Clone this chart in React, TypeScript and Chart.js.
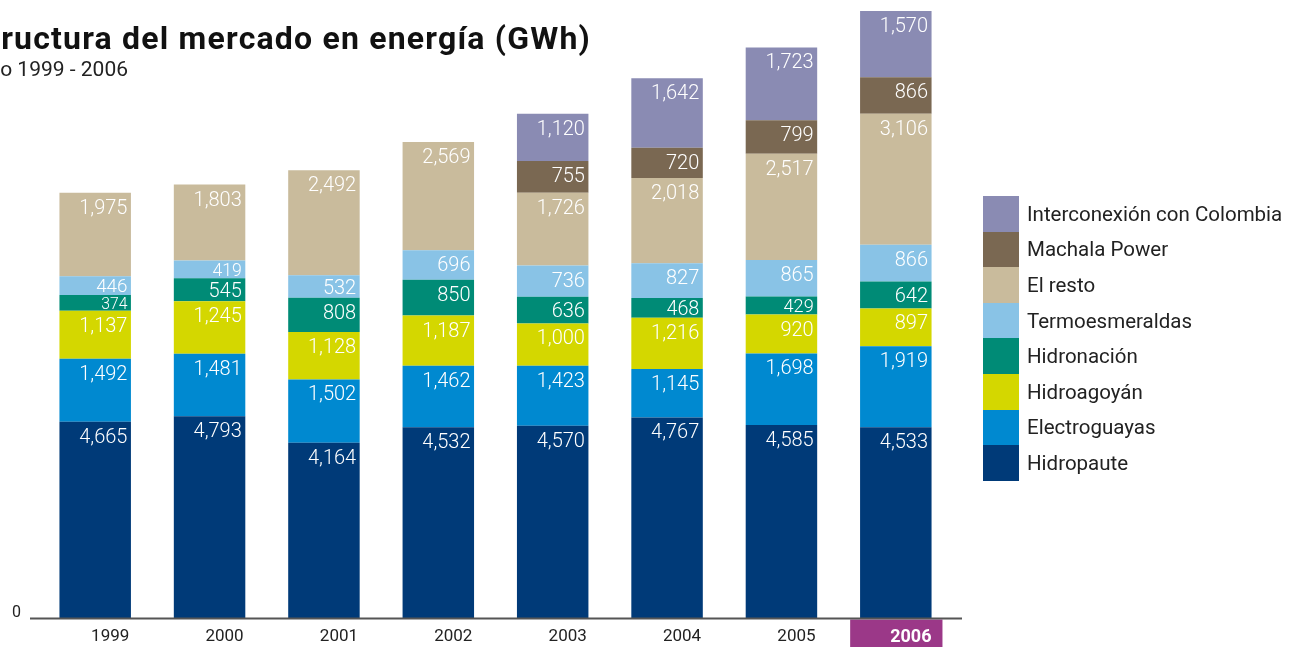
import React, { useEffect, useRef } from "react";
import { Chart, registerables } from "chart.js";
Chart.register(...registerables);

const years = ["1999", "2000", "2001", "2002", "2003", "2004", "2005", "2006"];
const hidropaute = [4665, 4793, 4164, 4532, 4570, 4767, 4585, 4533];
const electroguayas = [1492, 1481, 1502, 1462, 1423, 1145, 1698, 1919];
const hidroagoyan = [1137, 1245, 1128, 1187, 1000, 1216, 920, 897];
const hidronacion = [374, 545, 808, 850, 636, 468, 429, 642];
const termoesmeraldas = [446, 419, 532, 696, 736, 827, 865, 866];
const elResto = [1975, 1803, 2492, 2569, 1726, 2018, 2517, 3106];
const machalaPower = [0, 0, 0, 0, 755, 720, 799, 866];
const colombia = [0, 0, 0, 0, 1120, 1642, 1723, 1570];

const seriesNames = [
  "Hidropaute",
  "Electroguayas",
  "Hidroagoyán",
  "Hidronación",
  "Termoesmeraldas",
  "El resto",
  "Machala Power",
  "Interconexión con Colombia",
];
const seriesValues = [hidropaute, electroguayas, hidroagoyan, hidronacion, termoesmeraldas, elResto, machalaPower, colombia];
const seriesColors = ["#003a78", "#0089d0", "#d4d700", "#008b76", "#89c3e6", "#c9bb9c", "#7a6852", "#8a8bb3"];

const title = "Estructura del mercado en energía (GWh)";
const subtitle = "Período 1999 - 2006";
const FONT = "Roboto, 'Noto Sans', sans-serif";

const segLabels = {
  id: "segLabels",
  afterDatasetsDraw(chart: any) {
    const ctx = chart.ctx;
    ctx.save();
    chart.data.datasets.forEach((ds: any, di: number) => {
      const meta = chart.getDatasetMeta(di);
      meta.data.forEach((bar: any, i: number) => {
        const v = ds.data[i];
        if (!v) return;
        const p = bar.getProps(["x", "y", "base", "width"], true);
        const top = Math.min(p.y, p.base);
        const h = Math.abs(p.base - p.y);
        let f = 20;
        let baseline: number;
        if (h >= 27) baseline = top + 21;
        else {
          f = Math.min(20, h);
          baseline = top + h / 2 + (0.711 * f) / 2;
        }
        ctx.font = `300 ${f}px ${FONT}`;
        ctx.fillStyle = "#ffffff";
        ctx.textAlign = "right";
        ctx.textBaseline = "alphabetic";
        ctx.fillText(v.toLocaleString("en-US"), p.x + p.width / 2 - 3.5, baseline);
      });
    });
    ctx.restore();
  },
};

const axisLine = {
  id: "axisLine",
  afterDatasetsDraw(chart: any) {
    const ctx = chart.ctx;
    const y0 = chart.scales.y.getPixelForValue(0);
    const a = chart.chartArea;
    ctx.save();
    ctx.strokeStyle = "#555555";
    ctx.lineWidth = 2;
    ctx.beginPath();
    ctx.moveTo(a.left - 8, y0);
    ctx.lineTo(a.right + 9, y0);
    ctx.stroke();
    ctx.restore();
  },
};

export default function App() {
  const ref = useRef<HTMLCanvasElement>(null);
  useEffect(() => {
    if (!ref.current) return;
    const chart = new Chart(ref.current, {
      type: "bar",
      data: {
        labels: years,
        datasets: seriesNames.map((n, k) => ({
          label: n,
          data: seriesValues[k],
          backgroundColor: seriesColors[k],
          borderWidth: 0,
          barPercentage: 0.625,
          categoryPercentage: 1,
        })),
      },
      options: {
        animation: false,
        responsive: false,
        layout: { padding: { left: 12, right: 336, top: 11, bottom: 5 } },
        plugins: { legend: { display: false }, tooltip: { enabled: false } },
        scales: {
          x: {
            stacked: true,
            grid: { display: false, drawTicks: false },
            border: { display: false },
            afterFit: (s: any) => {
              s.height = 28.5;
            },
            ticks: {
              autoSkip: false,
              maxRotation: 0,
              padding: 8,
              labelOffset: 15,
              font: (c: any) => ({ size: c.index === 7 ? 18 : 17, family: FONT, weight: c.index === 7 ? "bold" : "normal" }),
              color: (c: any) => (c.index === 7 ? "#ffffff" : "#222222"),
              showLabelBackdrop: (c: any) => c.index === 7,
              backdropColor: "#9b3888",
              backdropPadding: { left: 40, right: 11, top: 7, bottom: 22 },
            },
          },
          y: {
            stacked: true,
            min: 0,
            max: 14400,
            grid: { display: false, drawTicks: false },
            border: { display: false },
            afterBuildTicks: (s: any) => {
              s.ticks = [{ value: 0 }];
            },
            afterFit: (s: any) => {
              s.width = 26;
            },
            ticks: {
              callback: () => "0",
              font: { size: 16, family: FONT },
              color: "#222222",
              padding: 0,
              crossAlign: "far",
              labelOffset: -6,
            },
          },
        },
      },
      plugins: [segLabels, axisLine],
    });
    return () => chart.destroy();
  }, []);

  const legendItems = seriesNames.map((n, k) => ({ n, c: seriesColors[k] })).reverse();

  return (
    <div style={{ position: "fixed", left: 0, top: 0, width: 1289, height: 652, overflow: "hidden", background: "#fff", fontFamily: FONT }}>
      <canvas ref={ref} width={1289} height={652} style={{ position: "absolute", left: 0, top: 0 }} />
      <div style={{ position: "absolute", right: 1289 - 591, top: 22, fontSize: 32, fontWeight: 700, lineHeight: "32px", letterSpacing: 1.2, whiteSpace: "nowrap", color: "#111" }}>
        {title}
      </div>
      <div style={{ position: "absolute", right: 1289 - 128, top: 59, fontSize: 21, lineHeight: "21px", whiteSpace: "nowrap", color: "#222" }}>
        {subtitle}
      </div>
      <div style={{ position: "absolute", left: 983, top: 196 }}>
        {legendItems.map((it) => (
          <div key={it.n} style={{ display: "flex", alignItems: "center", height: 35.6 }}>
            <div style={{ width: 36, height: 35.6, background: it.c }} />
            <div style={{ marginLeft: 8, fontSize: 20.5, color: "#222", whiteSpace: "nowrap" }}>{it.n}</div>
          </div>
        ))}
      </div>
    </div>
  );
}
